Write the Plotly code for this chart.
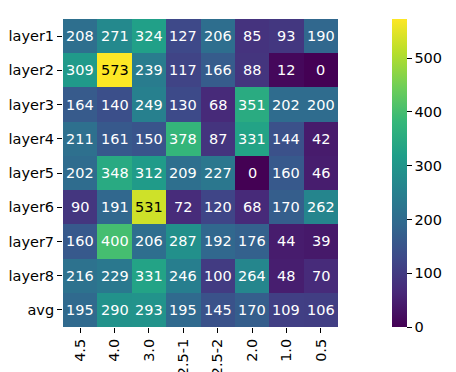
import plotly.graph_objects as go
from plotly.colors import sample_colorscale, unlabel_rgb

rows = ["layer1", "layer2", "layer3", "layer4", "layer5", "layer6", "layer7", "layer8", "avg"]
cols = ["4.5", "4.0", "3.0", "2.5-1", "2.5-2", "2.0", "1.0", "0.5"]
values = [
    [208, 271, 324, 127, 206, 85, 93, 190],
    [309, 573, 239, 117, 166, 88, 12, 0],
    [164, 140, 249, 130, 68, 351, 202, 200],
    [211, 161, 150, 378, 87, 331, 144, 42],
    [202, 348, 312, 209, 227, 0, 160, 46],
    [90, 191, 531, 72, 120, 68, 170, 262],
    [160, 400, 206, 287, 192, 176, 44, 39],
    [216, 229, 331, 246, 100, 264, 48, 70],
    [195, 290, 293, 195, 145, 170, 109, 106],
]

zmin, zmax = 0, 573
FS = 14.5


def lum(c):
    r, g, b = [v / 255 for v in unlabel_rgb(c)]
    f = lambda x: x / 12.92 if x <= 0.03928 else ((x + 0.055) / 1.055) ** 2.4
    return 0.2126 * f(r) + 0.7152 * f(g) + 0.0722 * f(b)


xi = list(range(len(cols)))
yi = list(range(len(rows)))

# page body has an 8px margin, so the figure is a bit smaller than the window
fig = go.Figure(go.Heatmap(
    z=values, x=xi, y=yi, colorscale="Viridis", zmin=zmin, zmax=zmax,
    xgap=0, ygap=0, hoverinfo="skip",
    colorbar=dict(
        thickness=15, thicknessmode="pixels", len=308, lenmode="pixels",
        x=(392 - 63) / 275, xanchor="left", y=1, yanchor="top", xpad=0, ypad=0,
        outlinewidth=0, tickvals=[0, 100, 200, 300, 400, 500],
        ticks="outside", ticklen=5, tickcolor="black",
        tickfont=dict(family="DejaVu Sans", size=FS, color="black"),
    ),
))

for i in yi:
    for j in xi:
        v = values[i][j]
        col = sample_colorscale("Viridis", [(v - zmin) / (zmax - zmin)])[0]
        txt = "black" if lum(col) > 0.408 else "white"
        fig.add_annotation(x=j, y=i, text=str(v), showarrow=False,
                           font=dict(family="DejaVu Sans", size=FS, color=txt))

fig.update_layout(
    width=448, height=364, margin=dict(l=55, r=118, t=11, b=45, autoexpand=False),
    plot_bgcolor="white", paper_bgcolor="white",
    font=dict(family="DejaVu Sans", size=FS, color="black"),
)
fig.update_xaxes(tickvals=xi, ticktext=cols, range=[-0.5, len(cols) - 0.5],
                 tickangle=-90, ticks="outside", ticklen=5, automargin=False,
                 tickcolor="black", showgrid=False, zeroline=False, showline=False)
fig.update_yaxes(tickvals=yi, ticktext=rows, range=[len(rows) - 0.5, -0.5],
                 ticks="outside", ticklen=5, automargin=False,
                 tickcolor="black", showgrid=False, zeroline=False, showline=False)

fig.write_html("out.html")
